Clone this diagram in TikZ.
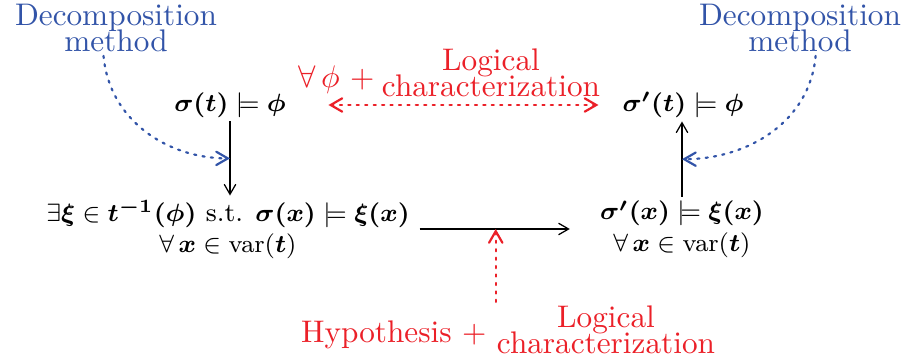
\documentclass[tikz,border=0pt]{standalone}
\usepackage{amsmath,amssymb,bm}
\usetikzlibrary{arrows,positioning}

\definecolor{decblue}{RGB}{50,84,168}
\definecolor{logred}{RGB}{235,32,40}

\begin{document}
\begin{tikzpicture}[x=0.32pt,y=-0.32pt,>=angle 60,
  note/.style={align=center,inner sep=1pt,font={\fontsize{10}{8.5}\selectfont\lineskiplimit=-5pt}},
  deco/.style={note,text=decblue},
  logi/.style={note,text=logred},
  stmt/.style={align=center,inner sep=1pt,font=\fontsize{8.4}{10}\selectfont},
  hint/.style={dotted,line width=0.7pt,line cap=round}]
\useasboundingbox (0,0) rectangle (903,362);

%left column
\node[deco] (dec left) at (116,28) {Decomposition\\method};
\node[stmt] (sat t) at (230,105) {$\bm{\sigma(t)}\models\bm{\phi}$};
\node[stmt] (sat x) at (228,229) {$\exists\bm{\xi}\in\bm{t^{-1}(\phi)}$ s.t. $\bm{\sigma(x)}\models\bm{\xi(x)}$\\$\forall\,\bm{x}\in\mathrm{var}(\bm{t})$};

%right column
\node[deco] (dec right) at (800,28) {Decomposition\\method};
\node[stmt] (satr t) at (683,105) {$\bm{\sigma'(t)}\models\bm{\phi}$};
\node[stmt] (satr x) at (682,229) {$\bm{\sigma'(x)}\models\bm{\xi(x)}$\\$\forall\,\bm{x}\in\mathrm{var}(\bm{t})$};

%red labels
\node[logi] (char logic) at (491,73) {Logical\\characterization};
\node[logi,left=0pt of char logic,yshift=-2pt] (forall phi) {$\forall\,\phi$ +};
\node[logi] (hyp logic) at (606,330) {Logical\\characterization};
\node[logi,left=1pt of hyp logic,yshift=-1.5pt] (hyp) {Hypothesis\ +};

%arrows
\draw[->] (sat t.south) -- (sat t.south |- sat x.north) coordinate[pos=.5] (dl);
\draw[->] (satr x.north) -- (satr x.north |- satr t.south) coordinate[pos=.5] (dr);
\draw[->,shorten <=2pt,shorten >=8.5pt] (sat x.east) -- (satr x.west) coordinate[pos=.45] (hm);
\draw[hint,logred,<->,shorten <=12.5pt,shorten >=6.5pt] (sat t.east) -- (satr t.west);
\draw[hint,logred,->] (hm |- hyp logic.north) -- (hm);
\draw[hint,decblue,->] ([xshift=-4pt]dec left.south) to[out=-85,in=180] (dl);
\draw[hint,decblue,->] ([xshift=5pt]dec right.south) to[out=-95,in=0] (dr);
\end{tikzpicture}
\end{document}
